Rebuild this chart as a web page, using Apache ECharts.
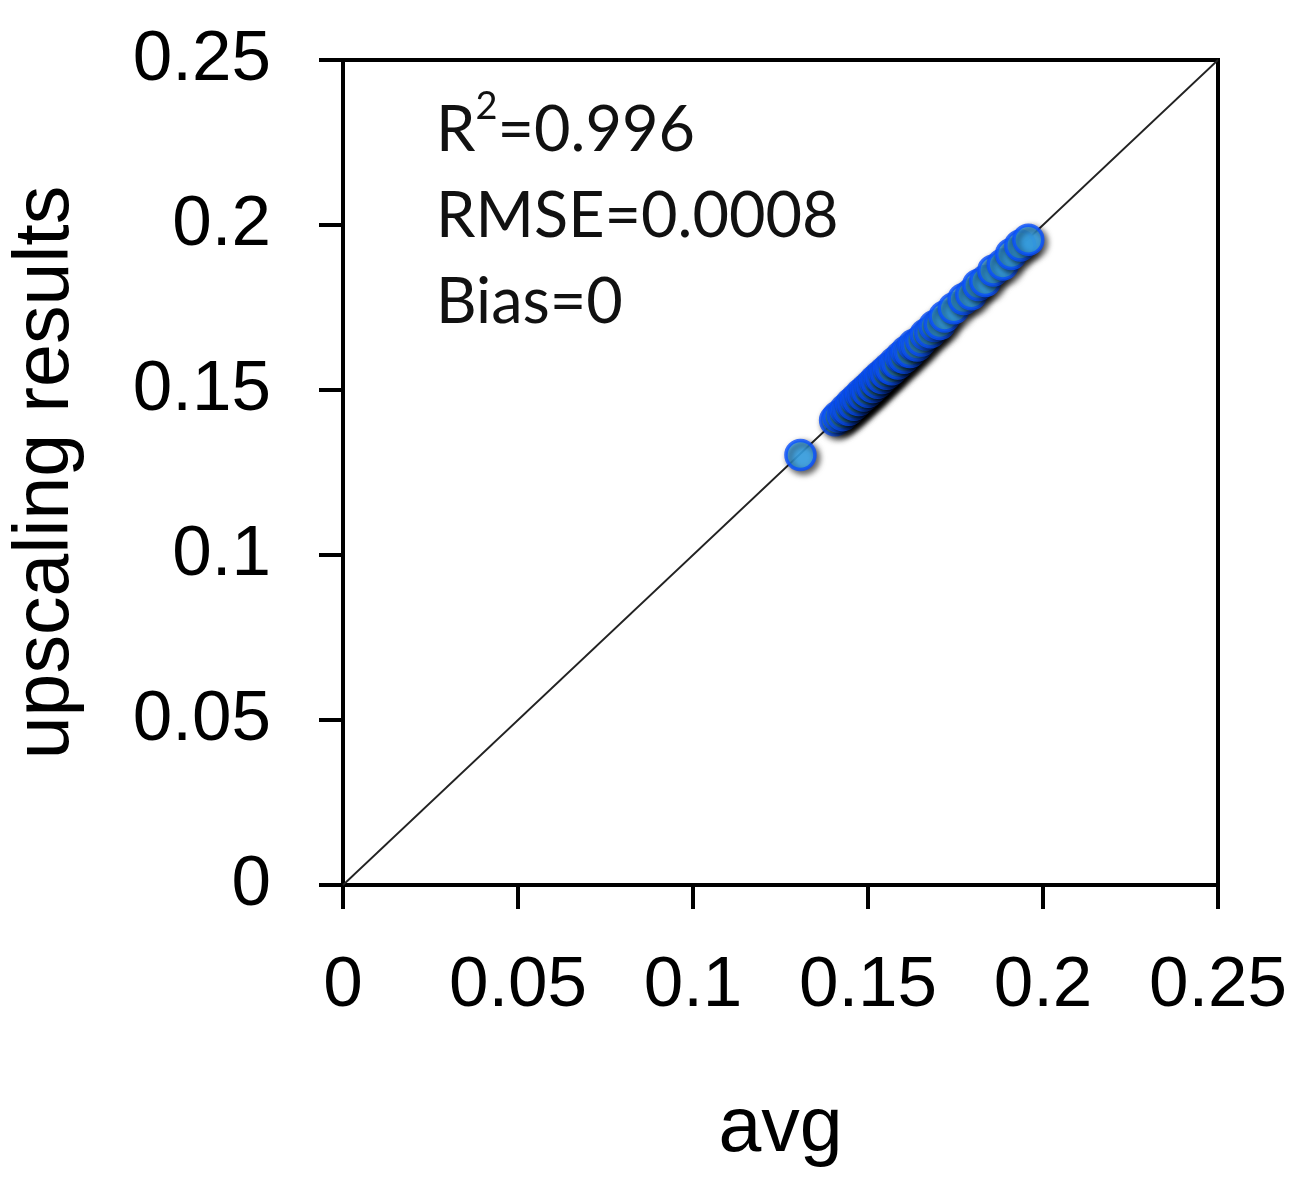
<!DOCTYPE html>
<html>
<head>
<meta charset="utf-8">
<script src="https://cdn.jsdelivr.net/npm/echarts@6/dist/echarts.min.js"></script>
<style>html,body{margin:0;padding:0;background:#fff;}#c{width:1300px;height:1183px;}</style>
</head>
<body>
<div id="c"></div>
<script>
var xTicks = [0, 0.05, 0.1, 0.15, 0.2, 0.25];
var xAxisName = 'avg';
var yAxisName = 'upscaling results';
var statsLines = ['R{sup|2}=0.996', 'RMSE=0.0008', 'Bias=0'];
var oneToOne = [[0, 0], [0.25, 0.25]];
var avgValues = [0.1307,0.1406,0.1415,0.1428,0.1436,0.1445,0.1452,0.1460,0.1466,0.1474,0.1480,0.1488,0.1494,0.1500,0.1507,0.1514,0.1520,0.1527,0.1533,0.1540,0.1547,0.1553,0.1560,0.1568,0.1577,0.1585,0.1594,0.1603,0.1610,0.1620,0.1630,0.1640,0.1652,0.1665,0.1678,0.1690,0.1705,0.1719,0.1745,0.1773,0.1795,0.1815,0.1835,0.1858,0.1885,0.1909,0.1935,0.1958];
var upscaledValues = [0.1303,0.1408,0.1420,0.1424,0.1441,0.1440,0.1458,0.1455,0.1472,0.1470,0.1487,0.1483,0.1500,0.1495,0.1513,0.1509,0.1527,0.1522,0.1540,0.1536,0.1553,0.1549,0.1566,0.1563,0.1583,0.1580,0.1600,0.1598,0.1617,0.1615,0.1636,0.1635,0.1650,0.1668,0.1675,0.1694,0.1700,0.1723,0.1748,0.1776,0.1790,0.1818,0.1830,0.1862,0.1880,0.1912,0.1938,0.1955];

var points = avgValues.map(function (v, i) { return [v, upscaledValues[i]]; });
var chart = echarts.init(document.getElementById('c'), null, {renderer: 'canvas'});
var tickFont = 'Liberation Sans, Arial, sans-serif';
var axisCommon = {
  type: 'value', min: xTicks[0], max: xTicks[xTicks.length - 1], interval: xTicks[1] - xTicks[0],
  splitLine: {show: false},
  axisLine: {show: true, lineStyle: {color: '#000', width: 4}},
  axisTick: {show: true, inside: false, length: 24, lineStyle: {color: '#000', width: 4}},
  nameLocation: 'middle',
  nameTextStyle: {color: '#000', fontSize: 77, fontFamily: tickFont}
};
chart.setOption({
  animation: false,
  backgroundColor: '#fff',
  grid: {left: 336, right: 82, top: 60, bottom: 298, show: true, borderColor: '#000', borderWidth: 4, containLabel: false},
  xAxis: Object.assign({}, axisCommon, {
    name: xAxisName, nameGap: 206,
    axisLabel: {color: '#000', fontSize: 71, fontFamily: tickFont, margin: 66}
  }),
  yAxis: Object.assign({}, axisCommon, {
    name: yAxisName, nameGap: 258, nameRotate: 90,
    axisLabel: {color: '#000', fontSize: 71, fontFamily: tickFont, margin: 72}
  }),
  graphic: [{
    type: 'text', left: 436, top: 88,
    style: {
      text: statsLines.join('\n'),
      font: '63px Lato, sans-serif', fill: '#111', lineHeight: 86,
      rich: {sup: {fontSize: 38, fontFamily: 'Lato', verticalAlign: 'top', lineHeight: 86, padding: [0, 0, 22, 0], fill: '#111'}}
    }
  }],
  series: [{
    type: 'line', data: oneToOne, symbol: 'none', silent: true,
    lineStyle: {color: '#222', width: 1.8}, z: 1
  }, {
    type: 'scatter', data: points, symbol: 'circle', symbolSize: 29, z: 3,
    itemStyle: {
      color: '#3fb4ff', borderColor: '#0a50ff', borderWidth: 3.5,
      shadowColor: 'rgba(0,0,0,0.8)', shadowBlur: 6, shadowOffsetX: 3, shadowOffsetY: 3
    }
  }]
});
</script>
</body>
</html>
